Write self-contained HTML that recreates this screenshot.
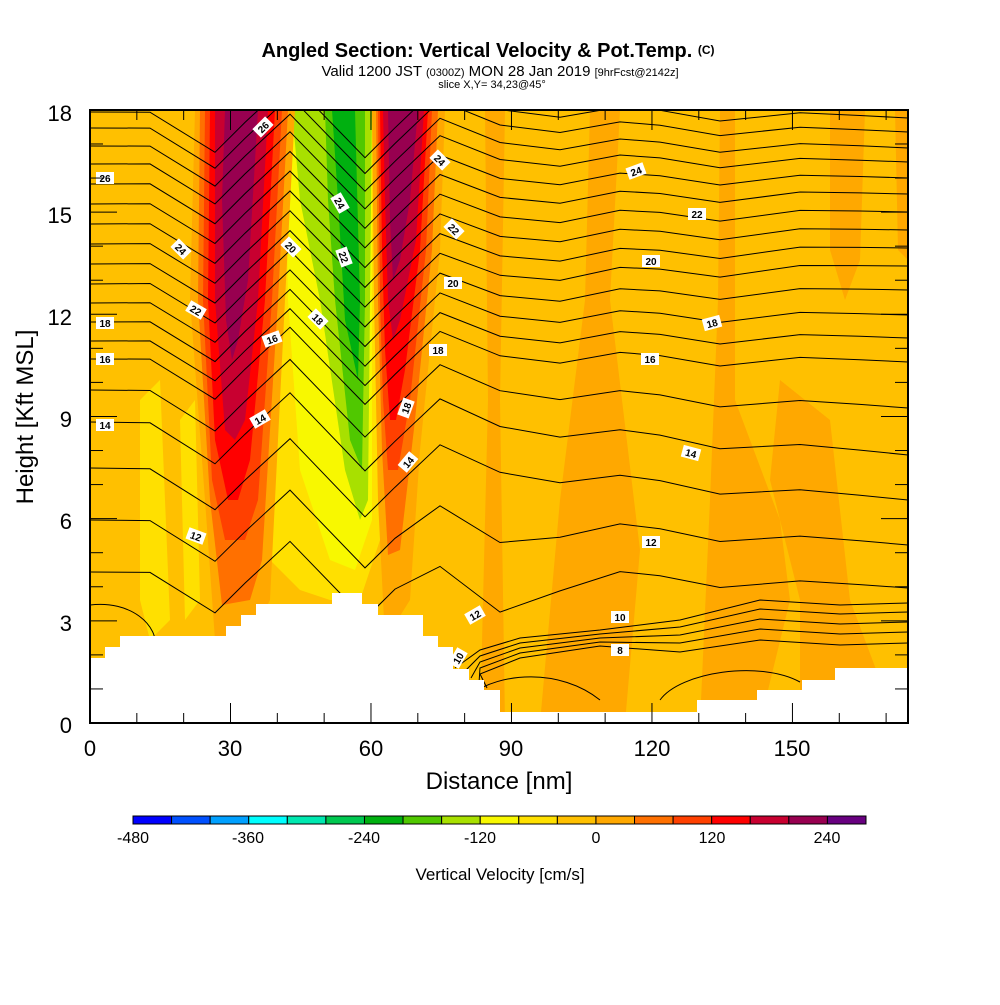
<!DOCTYPE html>
<html><head><meta charset="utf-8"><style>
body{margin:0;background:#fff;width:1000px;height:1000px;overflow:hidden}
svg text{font-family:"Liberation Sans",sans-serif}
</style></head><body>
<svg id="s" width="1000" height="1000" viewBox="0 0 1000 1000" xmlns="http://www.w3.org/2000/svg">
<defs><clipPath id="cp"><rect x="90" y="110" width="818" height="613"/></clipPath></defs>
<g clip-path="url(#cp)">
<rect x="90" y="110" width="818" height="613" fill="#ffc000"/>
<g fill="#ffa800">
<polygon points="485,110 505,110 500,400 505,723 480,723 488,400"/>
<polygon points="590,110 620,110 610,300 640,550 625,723 540,723 560,500 585,300"/>
<polygon points="720,110 735,110 735,400 780,520 790,600 760,723 700,723 710,500 718,300"/>
<polygon points="830,110 865,110 860,260 845,300 830,250"/>
<polygon points="895,110 908,110 908,260 898,250"/>
<polygon points="780,380 830,420 850,600 880,680 908,700 908,723 800,723 800,600 770,480"/>
</g>
<g fill="#ffe000">
<polygon points="140,400 160,380 170,620 150,640 140,600"/>
<polygon points="180,420 195,400 200,600 185,620"/>
<polygon points="265,110 375,110 380,300 380,540 360,600 330,600 300,590 270,560 262,300"/>
</g>
<g fill="#f8f800"><polygon points="285,110 372,110 372,300 372,520 355,570 330,560 300,470 288,300"/></g>
<g fill="#a8e000"><polygon points="292,110 372,110 370,300 368,500 360,520 345,470 320,300 300,200"/></g>
<g fill="#50c800"><polygon points="325,110 365,110 365,300 362,470 350,440 335,300 328,200"/></g>
<g fill="#00b010"><polygon points="332,110 355,110 360,300 358,380 345,320 338,200"/></g>
<g fill="#ffa800"><polygon points="195,110 295,110 285,300 270,600 250,640 215,640 205,500 190,300"/></g>
<g fill="#ff7000"><polygon points="200,110 288,110 278,300 262,560 250,600 222,605 210,500 198,300"/></g>
<g fill="#ff4000"><polygon points="205,110 282,110 272,300 258,500 245,540 225,540 212,480 203,300"/></g>
<g fill="#ff0000"><polygon points="210,110 275,110 265,300 250,460 238,500 228,500 215,440 208,300"/></g>
<g fill="#c80030"><polygon points="215,110 268,110 258,300 245,420 235,440 225,430 215,300"/></g>
<g fill="#980050"><polygon points="225,110 258,110 248,280 238,340 232,360 226,320 222,200"/></g>
<g fill="#ffa800"><polygon points="372,110 445,110 440,250 420,450 410,600 385,640 378,500 374,300"/></g>
<g fill="#ff7000"><polygon points="376,110 438,110 432,250 415,420 400,550 388,555 382,450 378,300"/></g>
<g fill="#ff4000"><polygon points="378,110 432,110 426,250 410,400 398,470 388,470 383,400 380,300"/></g>
<g fill="#ff0000"><polygon points="380,110 428,110 420,250 405,370 396,420 390,420 385,350 382,250"/></g>
<g fill="#c80030"><polygon points="383,110 424,110 416,240 400,320 393,340 388,300 385,200"/></g>
<g fill="#980050"><polygon points="388,110 418,110 410,200 400,260 393,280 390,220"/></g>
<g id="cont" fill="none" stroke="#000" stroke-width="1"></g>
<polygon fill="#fff" points="90,658 105,658 105,647 120,647 120,636 226,636 226,626 241,626 241,615 256,615 256,604 332,604 332,593 362,593 362,604 378,604 378,615 423,615 423,636 438,636 438,647 453,647 453,669 469,669 469,680 484,680 484,690 500,690 500,712 697,712 697,700 757,700 757,690 802,690 802,680 835,680 835,668 908,668 908,723 90,723"/>
<g id="lab" font-size="10" font-weight="bold"></g>
</g>
<rect x="90" y="110" width="818" height="613" fill="none" stroke="#000" stroke-width="2"/>
<g id="ticks" stroke="#000"></g>
<g font-size="22" text-anchor="end">
<text x="72" y="121">18</text><text x="72" y="223">15</text><text x="72" y="325">12</text><text x="72" y="427">9</text><text x="72" y="529">6</text><text x="72" y="631">3</text><text x="72" y="733">0</text>
</g>
<g font-size="22" text-anchor="middle">
<text x="90" y="756">0</text><text x="230" y="756">30</text><text x="371" y="756">60</text><text x="511" y="756">90</text><text x="652" y="756">120</text><text x="792" y="756">150</text>
<text x="499" y="789" font-size="24">Distance [nm]</text>
<text transform="translate(33,417) rotate(-90)" font-size="24">Height [Kft MSL]</text>
</g>
<g text-anchor="middle">
<text x="488" y="57" font-size="20" font-weight="bold">Angled Section: Vertical Velocity &amp; Pot.Temp. <tspan font-size="12" dy="-3">(C)</tspan></text>
<text x="500" y="76" font-size="15">Valid 1200 JST <tspan font-size="11">(0300Z)</tspan> MON 28 Jan 2019 <tspan font-size="11">[9hrFcst@2142z]</tspan></text>
<text x="492" y="88" font-size="11">slice X,Y= 34,23@45°</text>
</g>
<g id="cb"></g>
<g font-size="16" text-anchor="middle">
<text x="133" y="843">-480</text><text x="248" y="843">-360</text><text x="364" y="843">-240</text><text x="480" y="843">-120</text><text x="596" y="843">0</text><text x="712" y="843">120</text><text x="827" y="843">240</text>
<text x="500" y="880" font-size="17">Vertical Velocity [cm/s]</text>
</g>
</svg>
<script>
var NS="http://www.w3.org/2000/svg";
function el(t,a,p){var e=document.createElementNS(NS,t);for(var k in a)e.setAttribute(k,a[k]);document.getElementById(p).appendChild(e);return e;}
var cols=["#0000ff","#0050ff","#00a0ff","#00ffff","#00e8b0","#00c850","#00b010","#50c800","#a8e000","#f8f800","#ffe000","#ffc000","#ffa800","#ff7000","#ff4000","#ff0000","#c80030","#980050","#680080"];
var w=(866-133)/19;
for(var i=0;i<19;i++)el("rect",{x:133+i*w,y:816,width:w,height:8,fill:cols[i],stroke:"#000","stroke-width":1},"cb");
for(var h=0;h<=18;h++){var y=723-h*34.06;var L=h%3==0?27:13;
el("line",{x1:90,y1:y,x2:90+L,y2:y},"ticks");el("line",{x1:908,y1:y,x2:908-L,y2:y},"ticks");}
for(var d=0;d<=170;d+=10){var x=90+d*4.683;var L=d%30==0?20:10;
el("line",{x1:x,y1:723,x2:x,y2:723-L},"ticks");el("line",{x1:x,y1:110,x2:x,y2:110+L},"ticks");}
var xs=[90,150,215,245,290,365,395,440,500,560,620,660,720,800,860,908];
var offs=[0,0,40,10,-32,45,15,-28,-4,3,-8,-5,5,-4,-2,0];
var left={29:112,28:128,27:146,26:164,25:184,24:204,23:224,22:244,21:264,20:284,19:303,18:322,17:341,16:359,15:390,14:422,13:468,12:520,11:572};
var right={29:118,28:132,27:148,26:162,25:178,24:194,23:212,22:230,21:248,20:266,19:290,18:315,17:338,16:362,15:408,14:455,13:500,12:545,11:588};
for(var lv=29;lv>=11;lv--){
 var pts=[];
 for(var j=0;j<xs.length;j++){
  var x=xs[j],f=Math.min(1,Math.max(0,(x-440)/468));
  var base=x<=440?left[lv]+(right[lv]-left[lv])*0.15*((x-90)/350):left[lv]+(right[lv]-left[lv])*(0.15+0.85*f);
  var o=offs[j];
  if(lv<=12 && x>=440 && x<=560){o+= (x==500?20:(x==440?10:5))*(13-lv);}
  pts.push(x+","+(base+o).toFixed(1));
 }
 el("polyline",{points:pts.join(" ")},"cont");
}
// low contours near terrain on right
[[10,605],[9.5,614],[9,624],[8.5,634],[8,645]].forEach(function(a,k){
 var r=a[1];
 var p=[[455+k*8,668+k*5],[480,650+k*6],[520,638+k*5],[600,630+k*4],[680,r+15-k*2],[760,r-5],[840,r],[908,r-2]];
 el("polyline",{points:p.map(function(q){return q.join(",");}).join(" ")},"cont");
});
el("path",{d:"M90,605 C130,600 160,625 155,650 M470,695 C500,672 560,668 600,700 M660,700 C680,672 760,660 800,682"},"cont");
var labs=[[105,178,"26",0],[263,127,"26",-45],[440,160,"24",45],[636,171,"24",-20],[697,214,"22",0],[181,249,"24",45],[340,203,"24",60],[291,247,"20",45],[344,257,"22",70],[454,229,"22",45],[651,261,"20",0],[453,283,"20",0],[105,323,"18",0],[196,310,"22",30],[318,319,"18",45],[712,323,"18",-15],[272,339,"16",-20],[438,350,"18",0],[105,359,"16",0],[650,359,"16",0],[406,408,"18",-70],[105,425,"14",0],[260,419,"14",-30],[408,462,"14",-50],[691,453,"14",15],[196,536,"12",20],[651,542,"12",0],[475,615,"12",-30],[620,617,"10",0],[458,658,"10",-60],[620,650,"8",0]];
labs.forEach(function(l){var g=el("g",{transform:"translate("+l[0]+","+l[1]+") rotate("+l[3]+")"},"lab");
 var r=document.createElementNS(NS,"rect");r.setAttribute("x",-9);r.setAttribute("y",-6);r.setAttribute("width",18);r.setAttribute("height",12);r.setAttribute("fill","#fff");g.appendChild(r);
 var tx=document.createElementNS(NS,"text");tx.setAttribute("x",0);tx.setAttribute("y",4);tx.setAttribute("text-anchor","middle");tx.textContent=l[2];g.appendChild(tx);});
</script>
</body></html>
